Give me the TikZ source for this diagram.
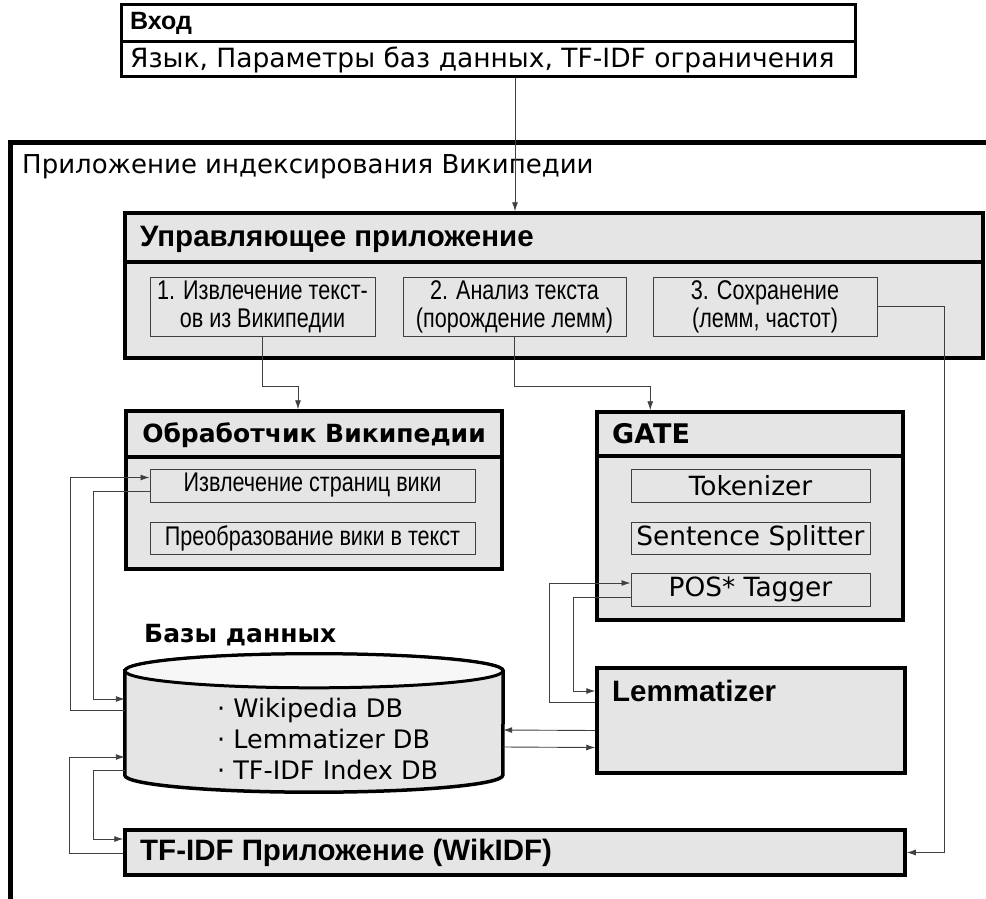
\documentclass[tikz,border=0pt]{standalone}
\usepackage{fontspec}
\setmainfont{DejaVu Sans}
\newfontfamily\arialfont{Liberation Sans}
\newfontfamily\narrowfont[FakeStretch=0.8]{Liberation Sans}
\usetikzlibrary{calc,arrows.meta}
\definecolor{boxgray}{RGB}{229,229,229}
\tikzset{
	bigbox/.style={draw, line width=3.5pt, fill=boxgray, inner sep=0pt},
	subbox/.style={draw=black!75, line width=1pt, fill=boxgray, inner sep=0pt, align=center, font=\narrowfont\fontsize{27}{28}\selectfont},
	gatebox/.style={subbox, font=\fontsize{26.4}{28}\selectfont},
	title/.style={anchor=west, inner sep=0pt, font=\bfseries\fontsize{25}{30}\selectfont},
	atitle/.style={title, font=\arialfont\bfseries\fontsize{29.5}{34}\selectfont},
	plain/.style={anchor=west, inner sep=0pt, font=\fontsize{26.5}{30}\selectfont},
	wire/.style={draw=black!75, line width=0.9pt},
	link/.style={wire, -{Latex[length=9pt,width=6pt]}},
}

\begin{document}
\begin{tikzpicture}[x=1pt,y=-1pt]
		\useasboundingbox (0,0) rectangle (986,899);
		%%%%% START %%%%%
		
		\node[bigbox, fill=white, line width=3pt, minimum width=734, minimum height=72] (input) at (488,41) {};
		\draw[line width=3pt] (input.west |- 0,42) -- (input.east |- 0,42);
		\node[title, font=\arialfont\bfseries\fontsize{25}{30}\selectfont] (intitle) at (130,23) {Вход};
		\node[plain] (inparams) at (130,60) {Язык, Параметры баз данных, TF-IDF ограничения};
		
		\draw[line width=5pt] (10,142) rectangle (1000,902);
		\node[plain, font=\fontsize{26}{30}\selectfont] (appname) at (22,167) {Приложение индексирования Википедии};
		
		\node[bigbox, minimum width=858, minimum height=145] (ctrl) at (554,285.5) {};
		\draw[line width=3.5pt] (ctrl.west |- 0,262) -- (ctrl.east |- 0,262);
		\node[atitle] (ctrltitle) at (140,239) {Управляющее приложение};
		\node[subbox, minimum width=225, minimum height=59] (ext) at (262.5,306.5) {\raisebox{-3pt}{1. Извлечение текст-}\\\raisebox{-3pt}{ов из Википедии}};
		\node[subbox, minimum width=223, minimum height=59] (ana) at (514.5,306.5) {\raisebox{-3pt}{2. Анализ текста}\\\raisebox{-3pt}{(порождение лемм)}};
		\node[subbox, minimum width=224, minimum height=59] (sav) at (765,306.5) {\raisebox{-3pt}{3. Сохранение}\\\raisebox{-3pt}{(лемм, частот)}};
		
		\node[bigbox, minimum width=376, minimum height=158] (wiki) at (314,490) {};
		\draw[line width=3.5pt] (wiki.west |- 0,457) -- (wiki.east |- 0,457);
		\node[title, anchor=center] (wikititle) at (314,435) {Обработчик Википедии};
		\node[subbox, minimum width=325, minimum height=33] (wpages) at (312.5,485.5) {Извлечение страниц вики};
		\node[subbox, minimum width=325, minimum height=32] (wconv) at (312.5,538) {Преобразование вики в текст};
		
		\node[bigbox, minimum width=306, minimum height=208] (gate) at (750,516) {};
		\draw[line width=3.5pt] (gate.west |- 0,456) -- (gate.east |- 0,456);
		\node[title, font=\bfseries\fontsize{27}{32}\selectfont] (gatetitle) at (612,434) {GATE};
		\node[gatebox, minimum width=239, minimum height=33] (tok) at (750.5,485.5) {Tokenizer};
		\node[gatebox, minimum width=239, minimum height=32] (split) at (750.5,538) {Sentence Splitter};
		\node[gatebox, minimum width=239, minimum height=33] (pos) at (750.5,589.5) {POS* Tagger};
		
		\node[bigbox, minimum width=308, minimum height=105] (lem) at (751,720.5) {};
		\node[atitle] (lemtitle) at (612,691) {Lemmatizer};
		
		\node[title] (dbtitle) at (144,635) {Базы данных};
		\node[minimum width=378, minimum height=104, inner sep=0pt] (db) at (314,723) {};
		\draw[line width=3.5pt, fill=boxgray] (db.north west) -- (db.south west) arc[start angle=180, end angle=0, x radius=189, y radius=17] -- (db.north east) arc[start angle=0, end angle=-180, x radius=189, y radius=17] -- cycle;
		\draw[line width=3pt, fill=black!3] (db.north) ellipse [x radius=189, y radius=17];
		\node[anchor=north west, align=left, inner sep=0pt, font=\fontsize{25.5}{31}\selectfont] (dbitems) at (217,698) {· Wikipedia DB\\· Lemmatizer DB\\· TF-IDF Index DB};
		
		\node[bigbox, minimum width=780, minimum height=45] (tfidf) at (515,852.5) {};
		\node[atitle] (tfidftitle) at (140,853) {TF-IDF Приложение (WikIDF)};
		
		% connectors
		\draw[link] (input.south -| 515,0) -- (ctrl.north -| 515,0);
		\draw[link] (ext.south) -- ++(0,50) -| ([xshift=-16pt]wiki.north);
		\draw[link] (ana.south) -- ++(0,50) -| ([xshift=55pt]gate.north west);
		\draw[link] (sav.east) -- ++(67,0) |- (tfidf.east);
		
		\draw[link] ([yshift=13pt]db.west) -- ++(-54,0) |- ([yshift=8pt]wpages.west);
		\draw[link] ([yshift=-6pt]wpages.west) -- ++(-56,0) |- ([yshift=24pt]db.west);
		
		\draw[link] ([yshift=18.5pt]lem.west) -- ++(-46,0) |- ([yshift=6.5pt]pos.west);
		\draw[link] ([yshift=-7.5pt]pos.west) -- ++(-57,0) |- ([yshift=29.5pt]lem.west);
		
		\draw[link] ([yshift=-10pt]lem.west) -- ([yshift=-7pt]db.east);
		\draw[link] ([yshift=-24pt]db.east) -- ([yshift=-27pt]lem.west);
		
		\draw[link] ([yshift=-0.5pt]tfidf.west) -- ++(-54,0) |- ([yshift=-34pt]db.west);
		\draw[link] ([yshift=-47pt]db.west) -- ++(-31,0) |- ([yshift=13.5pt]tfidf.west);
		
		%%%%% END %%%%%
\end{tikzpicture}
\end{document}
